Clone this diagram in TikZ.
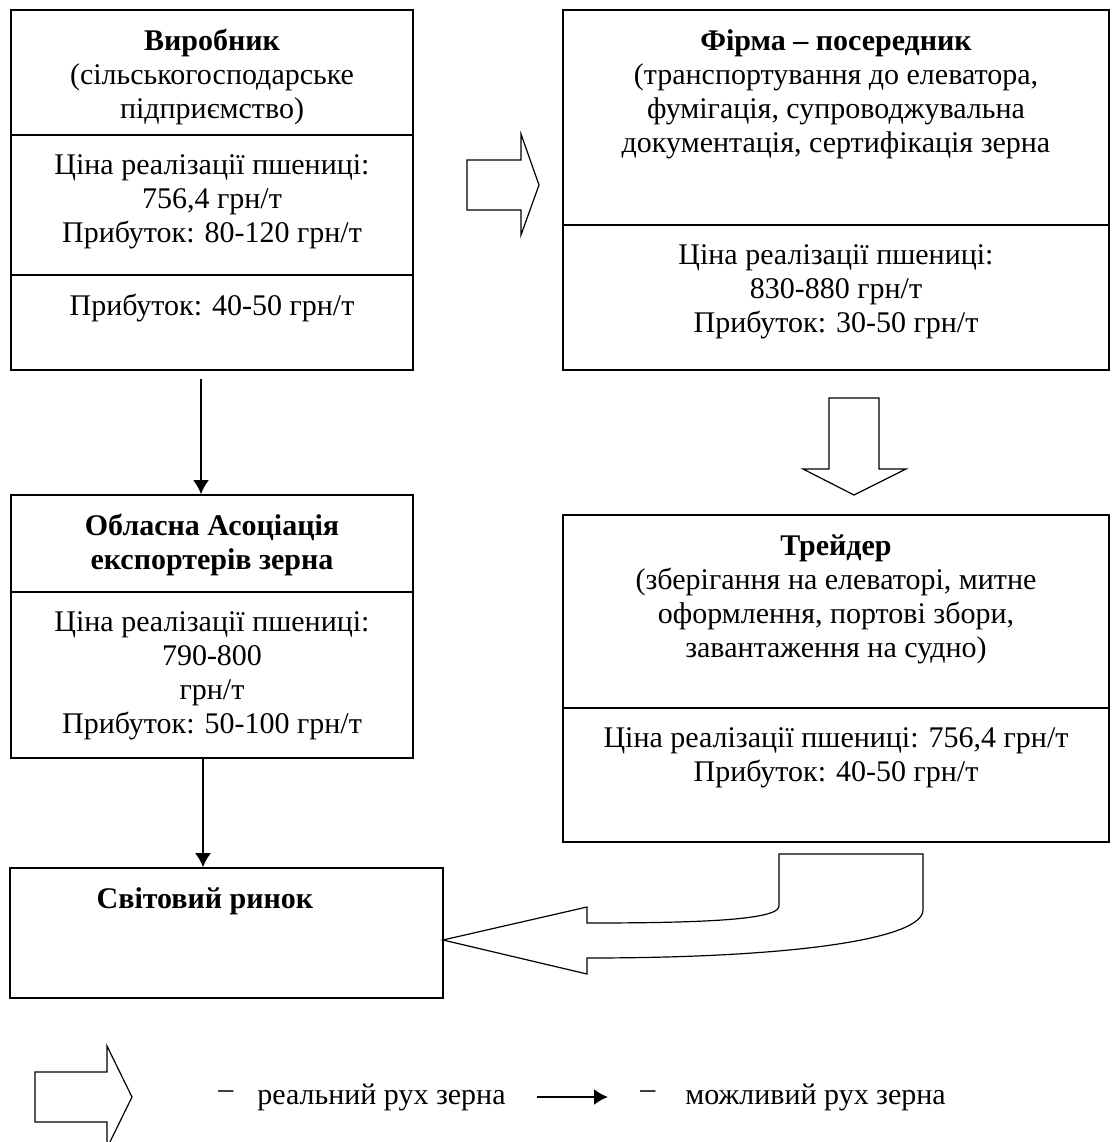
\documentclass[tikz,border=0pt]{standalone}
\usepackage{fontspec}
\setmainfont{Liberation Serif}
\usetikzlibrary{arrows.meta}

\tikzset{
  box/.style={draw, line width=0.8pt, inner sep=0pt},
  cut/.style={line width=0.8pt},
  txt/.style={align=center, inner sep=0pt, anchor=north, font=\fontsize{15}{17}\selectfont},
  hollow/.style={draw, line width=0.6pt, fill=white, line join=miter},
  flow/.style={line width=1pt, -{Latex[length=7pt,width=8pt]}}
}

\begin{document}
\begin{tikzpicture}[x=0.5pt,y=-0.5pt]
\useasboundingbox (0,0) rectangle (1112,1142);

\node[box, minimum width=201pt, minimum height=180pt] (prod) at (212,190) {};
\node[box, minimum width=273pt, minimum height=180pt] (firm) at (836,190) {};
\node[box, minimum width=201pt, minimum height=131.5pt] (assoc) at (212,626.5) {};
\node[box, minimum width=273pt, minimum height=163.5pt] (trader) at (836,678.5) {};
\node[box, minimum width=216.5pt, minimum height=65pt] (market) at (226.5,933) {};

\draw[cut] (prod.west |- 0,135) -- (prod.east |- 0,135);
\draw[cut] (prod.west |- 0,275) -- (prod.east |- 0,275);
\draw[cut] (firm.west |- 0,225) -- (firm.east |- 0,225);
\draw[cut] (assoc.west |- 0,592) -- (assoc.east |- 0,592);
\draw[cut] (trader.west |- 0,708) -- (trader.east |- 0,708);

\node[txt] (prodhead) at (212,29) {\textbf{Виробник}\\(сільськогосподарське\\підприємство)};
\node[txt] (prodprice) at (212,154) {Ціна реалізації пшениці:\\756,4 грн/т\\Прибуток: 80-120 грн/т};
\node[txt] (prodprofit) at (212,294) {Прибуток: 40-50 грн/т};

\node[txt] (firmhead) at (836,29) {\textbf{Фірма – посередник}\\(транспортування до елеватора,\\фумігація, супроводжувальна\\документація, сертифікація зерна};
\node[txt] (firmprice) at (836,244) {Ціна реалізації пшениці:\\830-880 грн/т\\Прибуток: 30-50 грн/т};

\node[txt] (assochead) at (212,514) {\textbf{Обласна Асоціація}\\\textbf{експортерів зерна}};
\node[txt] (assocprice) at (212,611) {Ціна реалізації пшениці:\\790-800\\грн/т\\Прибуток: 50-100 грн/т};

\node[txt] (traderhead) at (836,534) {\textbf{Трейдер}\\(зберігання на елеваторі, митне\\оформлення, портові збори,\\завантаження на судно)};
\node[txt] (traderprice) at (836,727) {Ціна реалізації пшениці: 756,4 грн/т\\Прибуток: 40-50 грн/т};

\node[txt] (markethead) at (205,887) {\textbf{Світовий ринок}};

\draw[flow, shorten <=4pt] ([xshift=-5.5pt]prod.south) -- ([xshift=-5.5pt]prod.south |- assoc.north);
\draw[flow] ([xshift=-4.5pt]assoc.south) -- ([xshift=-4.5pt]assoc.south |- market.north);

\draw[hollow] (467,160) -- (521,160) -- (521,134) -- (539,185) -- (521,235) -- (521,210) -- (467,210) -- cycle;
\draw[hollow] (829,398) -- (879,398) -- (879,469) -- (906,469) -- (854,495) -- (803,469) -- (829,469) -- cycle;
\draw[hollow] (443,940) -- (587,907) -- (587,923) .. controls (700,923) and (779,920) .. (779,906)
  -- (779,854) -- (923,854) -- (923,910) .. controls (923,938) and (800,958) .. (587,958) -- (587,974) -- cycle;

\begin{scope}
\clip (0,0) rectangle (1112,1142);
\draw[hollow] (35,1072) -- (107,1072) -- (107,1046) -- (132,1097) -- (107,1148) -- (107,1122) -- (35,1122) -- cycle;
\end{scope}

\node[inner sep=0pt, anchor=base west, font=\fontsize{15}{17}\selectfont] (legreal) at (218,1104) {\raisebox{3pt}{–}\hspace{12pt}реальний рух зерна};
\node[inner sep=0pt, anchor=base west, font=\fontsize{15}{17}\selectfont] (legposs) at (640,1104) {\raisebox{3pt}{–}\hspace{15pt}можливий рух зерна};
\coordinate (legfrom) at (537,1097);
\coordinate (legto) at (608,1097);
\draw[flow] (legfrom) -- (legto);
\end{tikzpicture}
\end{document}
